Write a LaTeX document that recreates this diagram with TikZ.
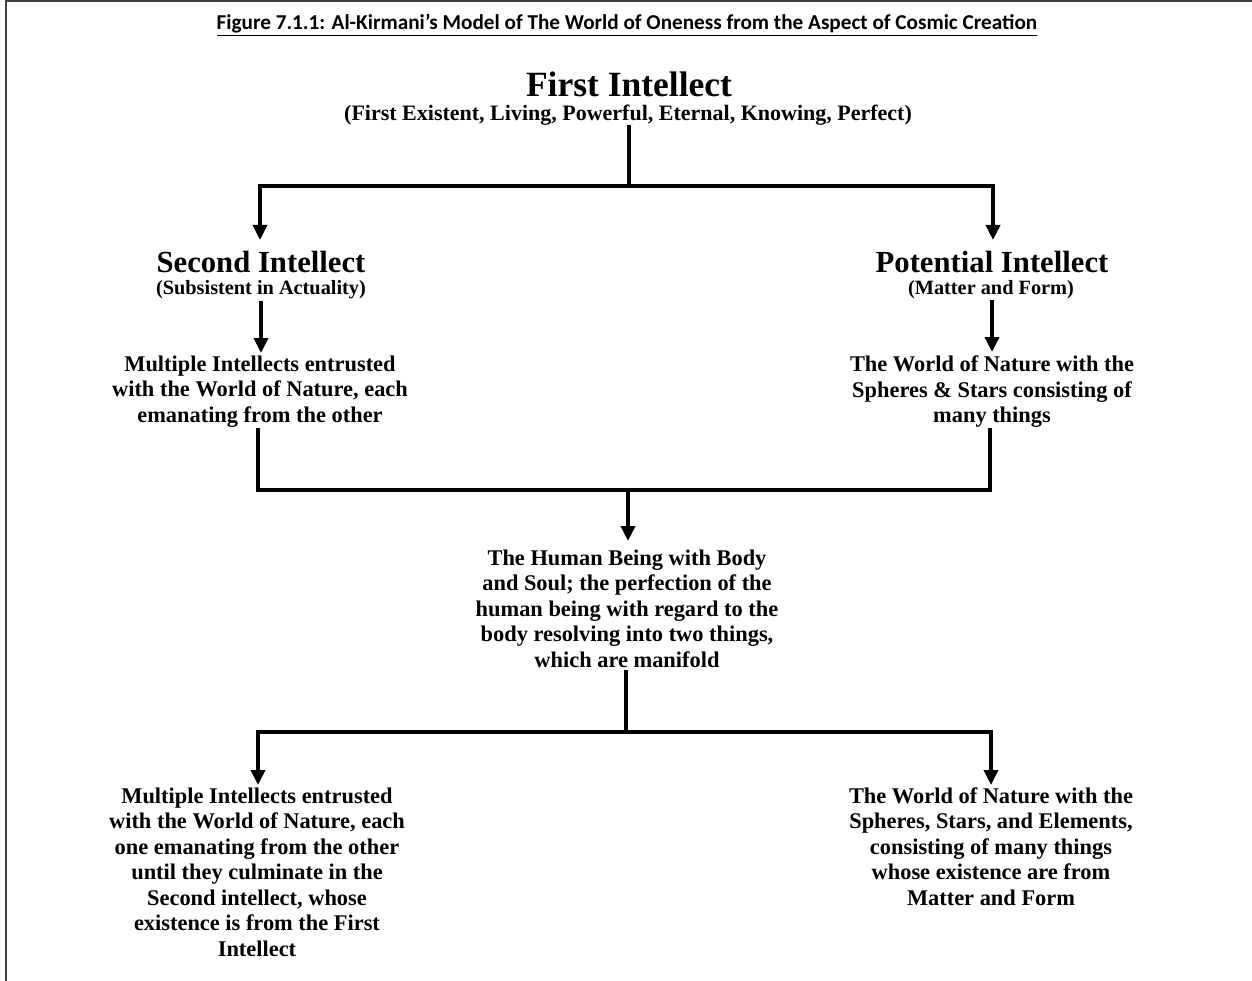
\documentclass[tikz,border=0pt]{standalone}
\usepackage{fontspec}
\setmainfont{Liberation Serif}
\newfontfamily\titlefont{Carlito}
\usetikzlibrary{arrows.meta}
\tikzset{
  conn/.style={line width=3.5pt, line cap=butt, line join=miter},
  arr/.style={conn, -{Triangle[width=14pt,length=15pt]}},
  big/.style={font=\bfseries\fontsize{30.7}{34}\selectfont, inner sep=0pt, align=center},
  sub/.style={font=\bfseries\fontsize{20.3}{24}\selectfont, inner sep=0pt, align=center},
  body/.style={font=\bfseries\fontsize{22.4}{25.5}\selectfont, inner sep=0pt, align=center},
}
\begin{document}
\begin{tikzpicture}[x=1pt,y=1pt]
\useasboundingbox (0,0) rectangle (1252,-981);
\fill[white] (0,0) rectangle (1252,-981);
\draw[line width=1.5pt, color=black!75] (6,-981) -- (6,-1) -- (1252,-1);

\node[inner sep=0pt, font=\titlefont\bfseries\fontsize{21.2}{24}\selectfont] (title) at (627,-25) {\underline{Figure 7.1.1: Al-Kirmani’s Model of The World of Oneness from the Aspect of Cosmic Creation}};

\node[big, font=\bfseries\fontsize{35.5}{38}\selectfont] (fi) at (629,-84) {First Intellect};
\node[sub, font=\bfseries\fontsize{22}{24}\selectfont] (fisub) at (628,-115) {(First Existent, Living, Powerful, Eternal, Knowing, Perfect)};

\node[big] (si) at (261,-262) {Second Intellect};
\node[sub] (sisub) at (261,-290) {(Subsistent in Actuality)};
\node[big] (pi) at (992,-262) {Potential Intellect};
\node[sub] (pisub) at (991,-290) {(Matter and Form)};

\node[body] (mi) at (260,-391.5) {Multiple Intellects entrusted\\with the World of Nature, each\\emanating from the other};
\node[body] (wn) at (992,-392) {The World of Nature with the\\Spheres \& Stars consisting of\\many things};

\node[body] (hb) at (627,-608.5) {The Human Being with Body\\and Soul; the perfection of the\\human being with regard to the\\body resolving into two things,\\which are manifold};

\node[body] (bl) at (257,-872) {Multiple Intellects entrusted\\with the World of Nature, each\\one emanating from the other\\until they culminate in the\\Second intellect, whose\\existence is from the First\\Intellect};
\node[body] (br) at (991,-846.5) {The World of Nature with the\\Spheres, Stars, and Elements,\\consisting of many things\\whose existence are from\\Matter and Form};

% coordinates
\coordinate (a1) at (629,-125);
\coordinate (a2) at (629,-186);
\coordinate (aL) at (260,-186);
\coordinate (aR) at (993,-186);
\coordinate (aLe) at (260,-240);
\coordinate (aRe) at (993,-240);
\coordinate (b1) at (261,-301);
\coordinate (b1e) at (261,-353);
\coordinate (c1) at (992,-300);
\coordinate (c1e) at (992,-352);
\coordinate (d1) at (258,-428);
\coordinate (d2) at (258,-490);
\coordinate (d3) at (990,-490);
\coordinate (d4) at (990,-428);
\coordinate (dm) at (628,-490);
\coordinate (dme) at (628,-541);
\coordinate (e1) at (626,-670);
\coordinate (e2) at (626,-732);
\coordinate (eL) at (258,-732);
\coordinate (eR) at (991,-732);
\coordinate (eLe) at (258,-785);
\coordinate (eRe) at (991,-785);

\draw[conn] (a1) -- (a2);
\draw[arr] (a2) -- (aL) -- (aLe);
\draw[arr] (a2) -- (aR) -- (aRe);
\draw[arr] (b1) -- (b1e);
\draw[arr] (c1) -- (c1e);
\draw[conn] (d1) -- (d2) -- (d3) -- (d4);
\draw[arr] (dm) -- (dme);
\draw[conn] (e1) -- (e2);
\draw[arr] (e2) -- (eL) -- (eLe);
\draw[arr] (e2) -- (eR) -- (eRe);
\end{tikzpicture}
\end{document}
